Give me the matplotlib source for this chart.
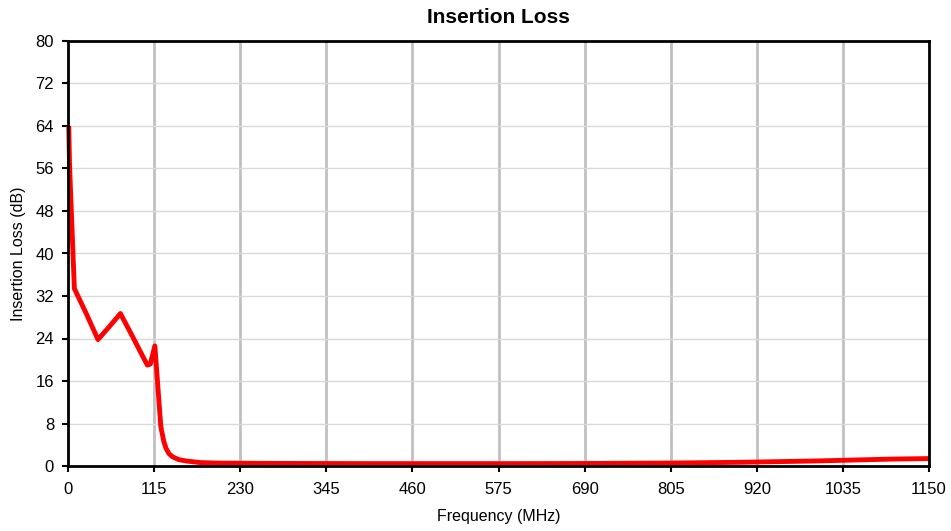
import matplotlib
matplotlib.use('Agg')
import matplotlib.pyplot as plt

plt.rcParams['font.family'] = ['Liberation Sans', 'DejaVu Sans']

# frequency (MHz) and insertion loss (dB)
freq = [1, 2, 3.5, 5, 8.5, 25, 40, 55, 70, 85, 100, 106, 110, 116, 120, 124,
        128, 131, 135, 140, 148, 158, 176, 200, 250, 300, 400, 500, 600,
        700, 800, 900, 1000, 1100, 1150]
loss = [64, 57, 51.3, 46, 33.4, 28.5, 23.8, 26.2, 28.7, 24.7, 20.6, 19.0,
        19.2, 22.6, 15.0, 7.4, 4.6, 3.3, 2.3, 1.7, 1.2, 0.94, 0.65, 0.55,
        0.5, 0.48, 0.45, 0.45, 0.45, 0.48, 0.55, 0.7, 0.95, 1.3, 1.4]

xticks = list(range(0, 1151, 115))
yticks = list(range(0, 81, 8))

fig = plt.figure(figsize=(9.51, 5.31), dpi=100)
ax = fig.add_axes([68/951, 65/531, 861/951, 425/531])

for x in xticks[1:-1]:
    ax.axvline(x, color='#c0c0c0', lw=2, zorder=1)
for y in yticks[1:-1]:
    ax.axhline(y, color='#d9d9d9', lw=1, zorder=1)

ax.plot(freq, loss, color='#ff0000', lw=3.5, solid_joinstyle='round',
        solid_capstyle='butt', zorder=3, clip_on=False)

ax.set_xlim(0, 1150)
ax.set_ylim(0, 80)
ax.set_xticks(xticks)
ax.set_yticks(yticks)
ax.tick_params(direction='out', length=4.5, width=1.5, labelsize=12,
               colors='black')
ax.tick_params(axis='x', pad=7)
ax.tick_params(axis='y', pad=5.5)
for s in ax.spines.values():
    s.set_linewidth(2)
    s.set_color('black')
    s.set_zorder(4)

ax.set_title('Insertion Loss', fontsize=15, fontweight='bold', pad=13)
ax.set_xlabel('Frequency (MHz)', fontsize=11.5, labelpad=9)
ax.set_ylabel('Insertion Loss (dB)', fontsize=11.5, labelpad=7)

fig.savefig('out.png', dpi=100)
